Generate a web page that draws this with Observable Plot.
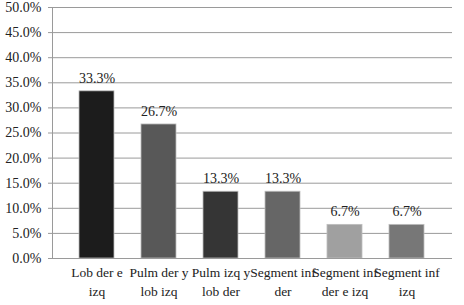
<!DOCTYPE html>
<html><head><meta charset="utf-8">
<script src="https://cdn.jsdelivr.net/npm/d3@7"></script>
<script src="https://cdn.jsdelivr.net/npm/@observablehq/plot@0.6"></script>
<style>body{margin:0;background:#fff}</style>
</head><body><div id="chart"></div>
<script>
const categories = ["Lob der e\nizq", "Pulm der y\nlob izq", "Pulm izq y\nlob der", "Segment inf\nder", "Segment inf\nder e izq", "Segment inf\nizq"];
const values = [0.333, 0.267, 0.133, 0.133, 0.067, 0.067];
const barColors = ["#1c1c1c", "#585858", "#353535", "#666666", "#a0a0a0", "#777777"];
const yTicks = [0, 0.05, 0.1, 0.15, 0.2, 0.25, 0.3, 0.35, 0.4, 0.45, 0.5];

const data = categories.map((c, i) => ({cat: c, v: values[i], col: barColors[i]}));
const font = "'Liberation Serif', 'Times New Roman', Tinos, serif";

const chart = Plot.plot({
  width: 464, height: 305,
  marginLeft: 52, marginRight: 12, marginTop: 7, marginBottom: 47,
  style: `font-family: ${font}; font-size: 13px; color: #222; background: #fff;`,
  x: {domain: categories, padding: 0.43, label: null},
  y: {domain: [0, 0.5], label: null},
  marks: [
    Plot.gridY(yTicks, {stroke: "#9a9a9a", strokeOpacity: 1, strokeWidth: 1}),
    Plot.frame({anchor: "left", stroke: "#9a9a9a"}),
    Plot.axisY({ticks: yTicks, tickFormat: d => (d * 100).toFixed(1) + "%", tickSize: 4, tickPadding: 7, stroke: "#9a9a9a", fontSize: 14, fill: "#222"}),
    Plot.barY(data, {x: "cat", y: "v", fill: "col", stroke: "#bdbdbd", strokeWidth: 0.8}),
    Plot.text(data, {x: "cat", y: "v", text: d => (d.v * 100).toFixed(1) + "%", dy: -13, fontSize: 14, fill: "#222"}),
    Plot.axisX({tickSize: 0, tickPadding: 6, lineHeight: 1.35, fontSize: 13.5, fill: "#222"}),
    Plot.ruleY([0], {stroke: "#9a9a9a"})
  ]
});
chart.querySelectorAll("text").forEach(t => t.style.setProperty("font-family", font, "important"));
document.getElementById("chart").append(chart);
</script>
</body></html>
